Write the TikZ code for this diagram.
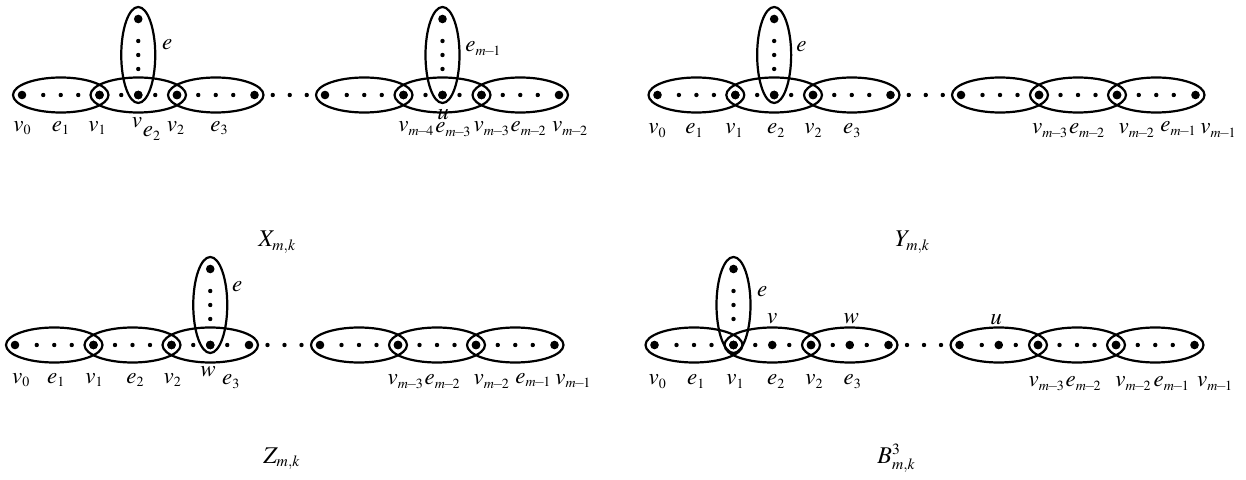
\documentclass[tikz,border=0pt]{standalone}
\usepackage{mathptmx}
\DeclareMathSizes{11.5}{11.5}{7}{5}
\DeclareMathSizes{12}{12}{7.8}{5.5}
\newcommand\mn{\mkern-2mu-\mkern-2mu}
\tikzset{
  hl/.style={line width=1.1pt},
  lab/.style={anchor=base west, inner sep=0pt, font=\fontsize{11.5}{13}\selectfont},
  captxt/.style={anchor=base west, inner sep=0pt, font=\fontsize{12}{14}\selectfont},
}
\newcommand\plainedge[3]{%
  \pgfmathsetmacro\cx{(#1+#2)/2}\pgfmathsetmacro\rx{(#2-#1)/2+9}%
  \draw[hl] (\cx,#3) ellipse[x radius=\rx, y radius=17.5];
  \foreach \d in {-17.5,0,17.5}{\fill (\cx+\d,#3) circle[radius=2.2];}
  \fill (#1,#3) circle[radius=4.3]; \fill (#2,#3) circle[radius=4.3];
}
\newcommand\midedge[3]{%
  \pgfmathsetmacro\cx{(#1+#2)/2}\pgfmathsetmacro\rx{(#2-#1)/2+9}%
  \draw[hl] (\cx,#3) ellipse[x radius=\rx, y radius=17.5];
  \fill (\cx-17,#3) circle[radius=2.2]; \fill (\cx+17,#3) circle[radius=2.2];
  \fill (\cx,#3) circle[radius=4.3];
  \fill (#1,#3) circle[radius=4.3]; \fill (#2,#3) circle[radius=4.3];
}
\newcommand\gapdots[3]{%
  \pgfmathsetmacro\cx{(#1+#2)/2}%
  \foreach \d in {-17,0,17}{\fill (\cx+\d,#3) circle[radius=2.2];}
}
\newcommand\vedge[2]{%
  \draw[hl] (#1,#2-40) ellipse[x radius=17, y radius=48];
  \fill (#1,#2-76) circle[radius=4.3];
  \foreach \d in {54,40,26}{\fill (#1,#2-\d) circle[radius=2.2];}
  \fill (#1,#2) circle[radius=4.3];
}
\begin{document}
\begin{tikzpicture}[x=0.5pt,y=-0.5pt]
\useasboundingbox (0,0) rectangle (1246,480);
% ---------------- X_{m,k}
\plainedge{22}{99.5}{95}
\midedge{99.5}{177}{95}
\plainedge{177}{254.5}{95}
\gapdots{254.5}{325}{95}
\plainedge{325}{403.5}{95}
\midedge{403.5}{481.5}{95}
\plainedge{481.5}{559}{95}
\vedge{138.25}{95}
\vedge{442.5}{95}
\node[lab] (xv0) at (13,131.5) {$v_0$};
\node[lab] (xe1) at (51.5,131.5) {$e_1$};
\node[lab] (xv1) at (88,131.5) {$v_1$};
\node[lab] (xv) at (131.5,128) {$v$};
\node[lab] (xe2) at (142.5,137) {$e_2$};
\node[lab] (xv2) at (166.5,131.5) {$v_2$};
\node[lab] (xe3) at (210,131.5) {$e_3$};
\node[lab] (xe) at (161.7,50) {$e$};
\node[lab] (xem1) at (465,51.7) {$e_{m\mn1}$};
\node[lab] (xvm4) at (398,131.7) {$v_{m\mn4}$};
\node[lab] (xem3) at ([yshift=-0.6pt]xvm4.base east) {$e_{m\mn3}$};
\node[lab] (xu) at (437,120) {$u$};
\node[lab] (xvm3) at (473.3,131.7) {$v_{m\mn3}$};
\node[lab] (xem2) at (xvm3.base east) {$e_{m\mn2}$};
\node[lab] (xvm2) at (551.7,131.7) {$v_{m\mn2}$};
\node[captxt] (xcap) at (258,247) {$X_{m,k}$};
% ---------------- Y_{m,k}
\plainedge{657.5}{735.3}{95}
\midedge{735.3}{813}{95}
\plainedge{813}{890.5}{95}
\gapdots{890.5}{961}{95}
\plainedge{961}{1039}{95}
\plainedge{1039}{1117}{95}
\plainedge{1117}{1195.5}{95}
\vedge{774.15}{95}
\node[lab] (yv0) at (648,134) {$v_0$};
\node[lab] (ye1) at (685,134) {$e_1$};
\node[lab] (yv1) at (725,134) {$v_1$};
\node[lab] (ye2) at (766.7,134) {$e_2$};
\node[lab] (yv2) at (804,134) {$v_2$};
\node[lab] (ye3) at (842.7,134) {$e_3$};
\node[lab] (ye) at (796,51.7) {$e$};
\node[lab] (yvm3) at (1031.7,134) {$v_{m\mn3}$};
\node[lab] (yem2) at (yvm3.base east) {$e_{m\mn2}$};
\node[lab] (yvm2) at (1118.3,134) {$v_{m\mn2}$};
\node[lab] (yem1) at (1160,132) {$e_{m\mn1}$};
\node[lab] (yvm1) at (1200,134) {$v_{m\mn1}$};
\node[captxt] (ycap) at (895,247) {$Y_{m,k}$};
% ---------------- Z_{m,k}
\plainedge{15}{93.5}{345}
\plainedge{93.5}{171.5}{345}
\midedge{171.5}{249}{345}
\gapdots{249}{320}{345}
\plainedge{320}{398}{345}
\plainedge{398}{476}{345}
\plainedge{476}{554.5}{345}
\vedge{210.25}{345}
\node[lab] (zv0) at (11.7,383) {$v_0$};
\node[lab] (ze1) at (46.7,383) {$e_1$};
\node[lab] (zv1) at (85,383) {$v_1$};
\node[lab] (ze2) at (126,383) {$e_2$};
\node[lab] (zv2) at (163.3,383) {$v_2$};
\node[lab] (zw) at (200,376.7) {$w$};
\node[lab] (ze3) at (221.7,385) {$e_3$};
\node[lab] (ze) at (231.7,291.7) {$e$};
\node[lab] (zvm3) at (387.3,385) {$v_{m\mn3}$};
\node[lab] (zem2) at (zvm3.base east) {$e_{m\mn2}$};
\node[lab] (zvm2) at (473.3,385) {$v_{m\mn2}$};
\node[lab] (zem1) at (515,383) {$e_{m\mn1}$};
\node[lab] (zvm1) at (555,384) {$v_{m\mn1}$};
\node[captxt] (zcap) at (263,463) {$Z_{m,k}$};
% ---------------- B^3_{m,k}
\plainedge{654.5}{733.5}{345}
\midedge{733.5}{811}{345}
\midedge{811}{888.5}{345}
\gapdots{888.5}{959.5}{345}
\midedge{959.5}{1038}{345}
\plainedge{1038}{1116}{345}
\plainedge{1116}{1194.5}{345}
\vedge{733.5}{345}
\node[lab] (bv0) at (648.3,385) {$v_0$};
\node[lab] (be1) at (686.7,385) {$e_1$};
\node[lab] (bv1) at (726,385) {$v_1$};
\node[lab] (be2) at (766.7,385) {$e_2$};
\node[lab] (bv2) at (805,385) {$v_2$};
\node[lab] (be3) at (843.3,385) {$e_3$};
\node[lab] (be) at (756.7,296.7) {$e$};
\node[lab] (bv) at (766.7,323.3) {$v$};
\node[lab] (bw) at (843.3,323) {$w$};
\node[lab] (bu) at (990,325) {$u$};
\node[lab] (bvm3) at (1028.3,386.7) {$v_{m\mn3}$};
\node[lab] (bem2) at (bvm3.base east) {$e_{m\mn2}$};
\node[lab] (bvm2) at (1115,386.7) {$v_{m\mn2}$};
\node[lab] (bem1) at (1153.3,386.7) {$e_{m\mn1}$};
\node[lab] (bvm1) at (1196.7,386.7) {$v_{m\mn1}$};
\node[captxt] (bcap) at (877,463) {$B^3_{m,k}$};
\end{tikzpicture}
\end{document}
